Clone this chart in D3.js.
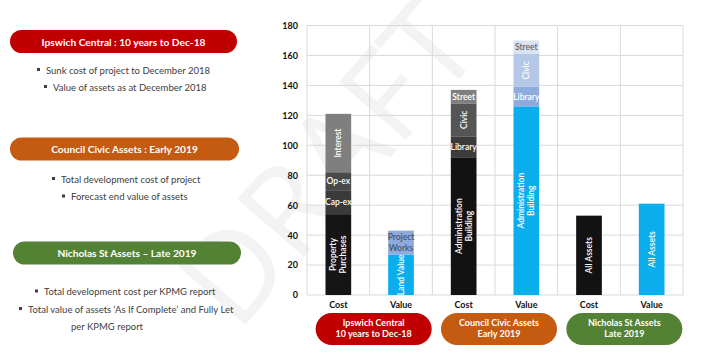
<!DOCTYPE html>
<html><head><meta charset="utf-8">
<script src="https://cdn.jsdelivr.net/npm/d3@7"></script>
<style>body{margin:0;background:#fff}svg{display:block}text{font-family:Lato,"Open Sans",sans-serif}</style>
</head><body><svg id="c" width="705" height="359"></svg>
<script>
// ---- data ----
const columns = ["Cost","Value","Cost","Value","Cost","Value"];
const groupLines = [["Ipswich Central","10 years to Dec-18"],["Council Civic Assets","Early 2019"],["Nicholas St Assets","Late 2019"]];
const groupColors = ["#c00000","#c55a11","#548235"];
const segValues = [[54,16,12,39],[27,16],[92,14,22,9],[126,13,22,9],[53],[61]];
const segLabels = [["Property\nPurchases","Cap-ex","Op-ex","Interest"],["Land Value","Project\nWorks"],["Administration\nBuilding","Library","Civic","Street"],["Administration\nBuilding","Library","Civic","Street"],["All Assets"],["All Assets"]];
const segRotate = [[1,0,0,1],[1,0],[1,0,1,0],[1,0,1,0],[1],[1]];
const segColors = [["#151515","#3a3a3a","#4a4a4a","#7f7f7f"],["#0aaeed","#8faadc"],["#121212","#3c3c3c","#555555","#7f7f7f"],["#0aaeed","#8faadc","#b4c7e7","#dae3f3"],["#121212"],["#0aaeed"]];
const segTextColors = [["#fff","#fff","#fff","#fff"],["#fff","#44546a"],["#fff","#fff","#fff","#fff"],["#fff","#fff","#fff","#666"],["#fff"],["#fff"]];
const yTicks = [0,20,40,60,80,100,120,140,160,180];
const sections = [
  {title:"Ipswich Central : 10 years to Dec-18", bullets:[{t:"Sunk cost of project to December 2018",x:46},{t:"Value of assets as at December 2018",x:53}]},
  {title:"Council Civic Assets : Early 2019", bullets:[{t:"Total development cost of project",x:61},{t:"Forecast end value of assets",x:71}]},
  {title:"Nicholas St Assets \u2013 Late 2019", bullets:[{t:"Total development cost per KPMG report",x:44},{t:"Total value of assets \u2018As If Complete\u2019 and Fully Let",x:28},{t:"per KPMG report",x:null}]}
];

const svg = d3.select("#c");

// watermark
svg.append("text").text("DRAFT")
  .attr("transform","translate(336,170) rotate(-49)")
  .attr("text-anchor","middle").attr("dominant-baseline","middle")
  .style("font-family","'Open Sans',sans-serif").style("font-weight",400)
  .style("font-size","124px").attr("fill","#f3f3f3");

// scales
const y = d3.scaleLinear().domain([0,180]).range([295,25.5]);
const x = d3.scaleBand().domain(d3.range(columns.length)).range([307,683]).padding(0);
const bw = x.bandwidth()*0.41;

// grid
const g = svg.append("g");
g.selectAll("line.h").data(yTicks).join("line")
  .attr("x1",307).attr("x2",683).attr("y1",d=>y(d)).attr("y2",d=>y(d))
  .attr("stroke","#d9d9d9").attr("stroke-width",1);
g.selectAll("line.v").data(d3.range(columns.length+1)).join("line")
  .attr("x1",d=>d<columns.length?x(d):x(columns.length-1)+x.bandwidth())
  .attr("x2",d=>d<columns.length?x(d):x(columns.length-1)+x.bandwidth())
  .attr("y1",y(180)).attr("y2",y(0)).attr("stroke","#d9d9d9");

// y axis
const yAxis = d3.axisLeft(y).tickValues(yTicks).tickSize(0).tickPadding(0);
const ya = svg.append("g").attr("transform","translate(298,0)").call(yAxis);
ya.select(".domain").remove();
ya.selectAll("text").style("font-family","Lato,sans-serif").style("font-weight","bold").style("font-size","9px").attr("fill","#111");

// bars
columns.forEach((c,i)=>{
  const vals = segValues[i];
  let acc = 0;
  const cx = x(i)+x.bandwidth()/2;
  vals.forEach((v,j)=>{
    const y0 = y(acc), y1 = y(acc+v);
    acc += v;
    svg.append("rect").attr("x",cx-bw/2).attr("width",bw).attr("y",y1).attr("height",y0-y1).attr("fill",segColors[i][j]);
    const lines = segLabels[i][j].split("\n");
    const cy = (y0+y1)/2;
    const t = svg.append("text").attr("fill",segTextColors[i][j]).style("font-size","8.5px").style("font-weight",600)
      .attr("text-anchor","middle")
      .attr("transform", segRotate[i][j] ? `translate(${cx},${cy}) rotate(-90)` : `translate(${cx},${cy})`);
    lines.forEach((l,k)=>{
      t.append("tspan").attr("x",0).attr("y",((k-(lines.length-1)/2)*1.2)+"em").attr("dy","0.35em").text(l);
    });
  });
});

// x labels
const xAxis = d3.axisBottom(x).tickFormat(i=>columns[i]).tickSize(0).tickPadding(5);
const xa = svg.append("g").attr("transform","translate(0,297)").call(xAxis);
xa.select(".domain").remove();
xa.selectAll("text").style("font-family","Lato,sans-serif").style("font-weight","bold").style("font-size","9px").attr("fill","#111");

// bottom pills
groupLines.forEach((lines,k)=>{
  const cx = x(2*k)+x.bandwidth()+4;
  const w=116,h=32,top=313;
  svg.append("rect").attr("x",cx-w/2).attr("y",top).attr("width",w).attr("height",h).attr("rx",16).attr("fill",groupColors[k]);
  const t = svg.append("text").attr("text-anchor","middle").attr("fill","#fff").style("font-weight","bold").style("font-size","9px");
  lines.forEach((l,i)=>t.append("tspan").attr("x",cx).attr("y",top+13+i*11).text(l));
});

// left panel
const pillY = [30,137.5,241.5];
const pillX = [[10,237],[10,239],[13,241]];
const bulletY = [[70,87],[179,196.5],[291.5,309,326.5]];
sections.forEach((s,k)=>{
  const [x0,x1] = pillX[k];
  svg.append("rect").attr("x",x0).attr("y",pillY[k]).attr("width",x1-x0).attr("height",23).attr("rx",11.5).attr("fill",groupColors[k]);
  svg.append("text").attr("x",(x0+x1)/2).attr("y",pillY[k]+15.5).attr("text-anchor","middle").attr("fill","#fff")
    .style("font-weight","bold").style("font-size","10.2px").text(s.title);
  s.bullets.forEach((b,i)=>{
    const by = bulletY[k][i];
    if(b.x!==null){
      svg.append("rect").attr("x",b.x-9).attr("y",by-2).attr("width",3).attr("height",3).attr("fill","#404040");
      svg.append("text").attr("x",b.x).attr("y",by+3.5).attr("fill","#404040").style("font-size","9.5px").text(b.t);
    } else {
      svg.append("text").attr("x",107).attr("y",by+3.5).attr("text-anchor","middle").attr("fill","#404040").style("font-size","9.5px").text(b.t);
    }
  });
});
</script></body></html>
